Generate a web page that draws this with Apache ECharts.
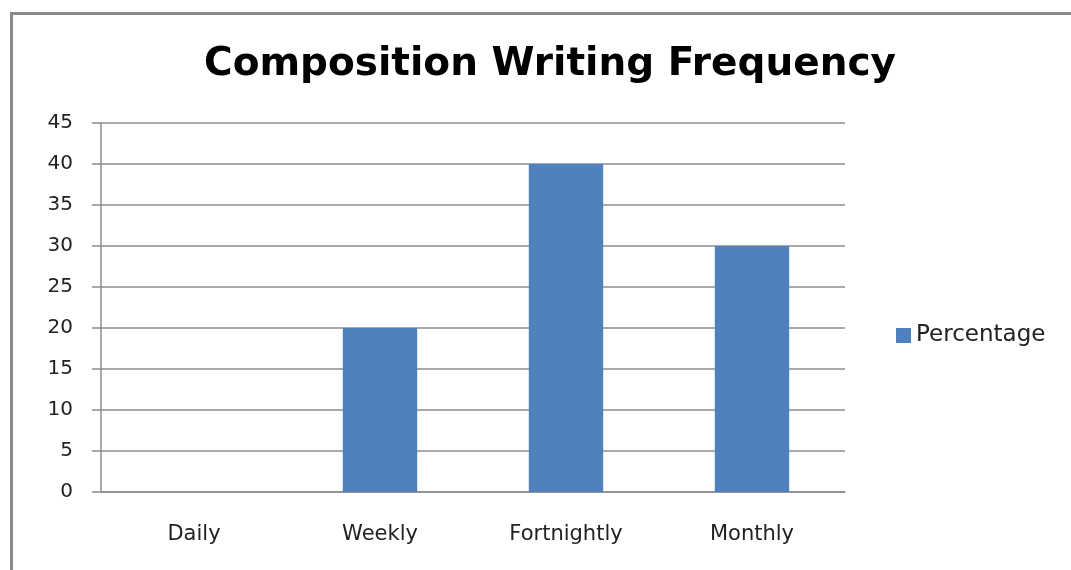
<!DOCTYPE html>
<html lang="en">

<head>
  <meta charset="UTF-8">
  <title>Composition Writing Frequency</title>
  <style>
    body { margin: 0; background: #fff; }
    #frame {
      position: absolute; left: 10px; top: 12px; width: 1080px; height: 580px;
      border-top: 3px solid #8a8a8a; border-left: 3px solid #8a8a8a;
      pointer-events: none;
    }
  </style>
</head>

<body>
  <div id="main" style="width: 1071px;height:570px;"></div>
  <div id="frame"></div>

  <script src="https://cdn.jsdelivr.net/npm/echarts@6/dist/echarts.min.js"></script>
  <script>

  // data
  const categories = ['Daily', 'Weekly', 'Fortnightly', 'Monthly'];
  const percentage = [0, 20, 40, 30];
  const yMin = 0, yMax = 45, yStep = 5;

  const font = 'DejaVu Sans';
  const gridColor = '#8c8c8c';

  let myChart = echarts.init(document.getElementById('main'));
  let option = {
    animation: false,
    title: {
      text: 'Composition Writing Frequency',
      left: 545,
      top: 40,
      textAlign: 'center',
      textStyle: { fontFamily: font, fontWeight: 'bold', fontSize: 39, color: '#000' }
    },
    legend: {
      orient: 'vertical',
      left: 891,
      top: 319,
      icon: 'rect',
      itemWidth: 15,
      itemHeight: 15,
      itemGap: 6,
      textStyle: { fontFamily: font, fontSize: 23, color: '#222' }
    },
    grid: { left: 101, right: 226, top: 123, bottom: 78 },
    xAxis: {
      type: 'category',
      data: categories,
      axisLine: { lineStyle: { color: gridColor, width: 1.5 } },
      axisTick: { length: 6, lineStyle: { color: gridColor } },
      axisLabel: { margin: 32, fontFamily: font, fontSize: 21, color: '#222' }
    },
    yAxis: {
      type: 'value',
      min: yMin,
      max: yMax,
      interval: yStep,
      axisLine: { show: true, lineStyle: { color: gridColor, width: 1.5 } },
      axisTick: { show: true, length: 9, lineStyle: { color: gridColor, width: 1.5 } },
      axisLabel: { margin: 28, fontFamily: font, fontSize: 20, color: '#222' },
      splitLine: { lineStyle: { color: gridColor, width: 1.5 } }
    },
    series: [{
      name: 'Percentage',
      type: 'bar',
      data: percentage,
      barWidth: '40%',
      itemStyle: { color: '#4f81bd' }
    }]
  };

  myChart.setOption(option);
  </script>
</body>

</html>
